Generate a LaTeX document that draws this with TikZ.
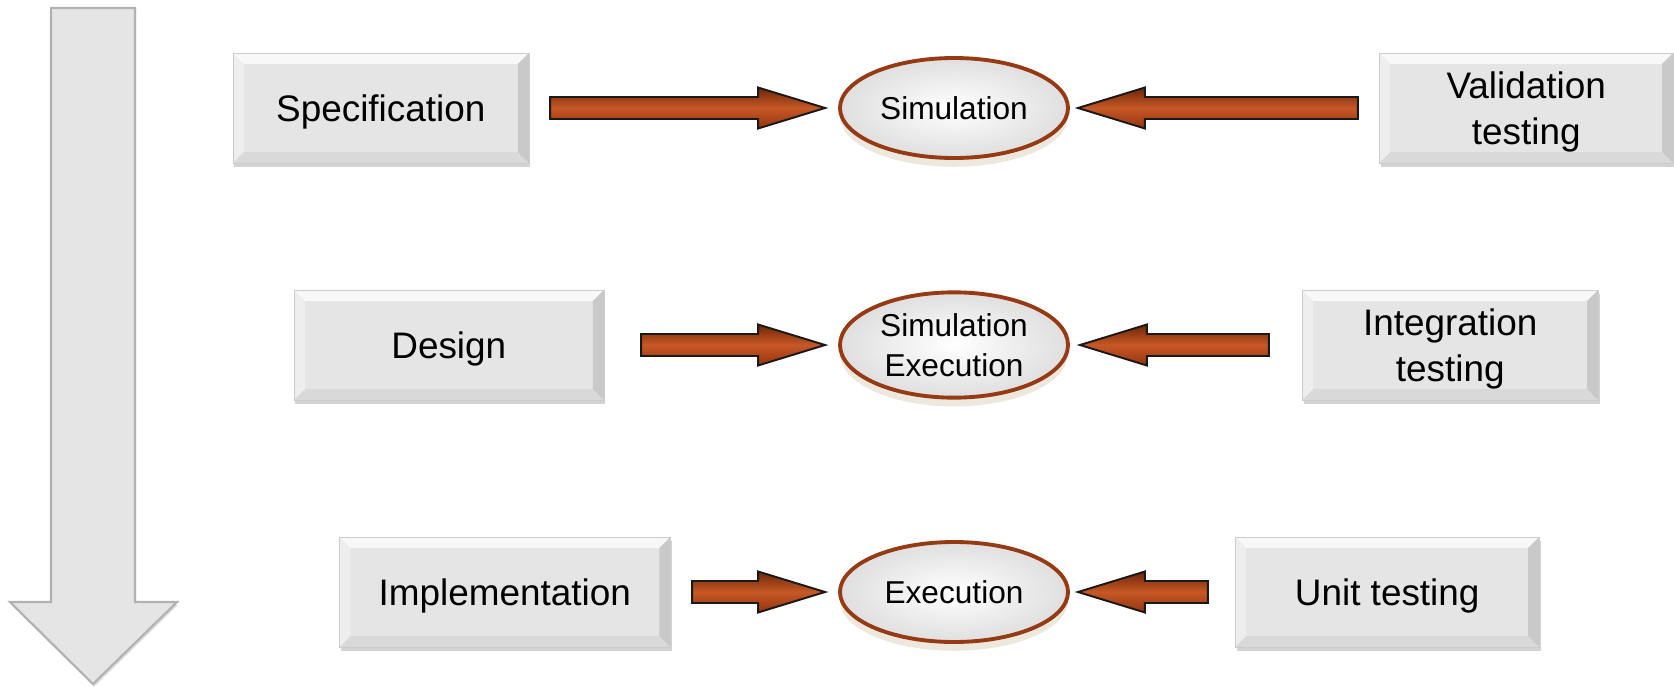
\documentclass[tikz,border=0pt]{standalone}
\usepackage{fontspec}
\setsansfont{Liberation Sans}
\usepackage{tikz}
\usetikzlibrary{positioning, calc, shadows, shapes.geometric}
\definecolor{box_gray}{RGB}{229,229,229}
\definecolor{bevel_dark}{RGB}{190,190,190}
\definecolor{rust_dark}{RGB}{110,38,8}
\definecolor{rust}{RGB}{198,88,38}
\definecolor{rust_mid}{RGB}{150,52,14}
\definecolor{ring_brown}{RGB}{150,58,20}
\definecolor{shadow_beige}{RGB}{236,232,222}

% bevelled edges of the gray boxes
\newcommand{\boxbevel}{%
  \fill[white, opacity=0.75] (path picture bounding box.north west) -- (path picture bounding box.north east)
    -- ([shift={(-0.22,-0.22)}]path picture bounding box.north east) -- ([shift={(0.22,-0.22)}]path picture bounding box.north west) -- cycle;
  \fill[bevel_dark, opacity=0.7] (path picture bounding box.north east) -- (path picture bounding box.south east)
    -- ([shift={(-0.22,0.22)}]path picture bounding box.south east) -- ([shift={(-0.22,-0.22)}]path picture bounding box.north east) -- cycle;
  \fill[bevel_dark, opacity=0.3] (path picture bounding box.south west) -- (path picture bounding box.south east)
    -- ([shift={(-0.22,0.22)}]path picture bounding box.south east) -- ([shift={(0.22,0.22)}]path picture bounding box.south west) -- cycle;
  \fill[white, opacity=0.35] (path picture bounding box.north west) -- (path picture bounding box.south west)
    -- ([shift={(0.22,0.22)}]path picture bounding box.south west) -- ([shift={(0.22,-0.22)}]path picture bounding box.north west) -- cycle;
}

\tikzstyle{phase} = [rectangle, fill=box_gray, draw=gray!40, line width=0.3pt, minimum height=2.2cm,
                    text centered, align=center, text depth=0pt, font=\sffamily\fontsize{21}{26}\selectfont,
                    drop shadow={shadow xshift=0.8pt, shadow yshift=-2.5pt, opacity=0.35},
                    path picture={\boxbevel}]
\tikzstyle{activity} = [ellipse, minimum width=4.56cm, minimum height=2cm, inner color=white, outer color=gray!25,
                    draw=ring_brown, line width=2.2pt, align=center, font=\sffamily\fontsize{18}{22.5}\selectfont,
                    drop shadow={shadow xshift=0pt, shadow yshift=-5pt, fill=shadow_beige, opacity=1}]
\tikzstyle{fatarrow} = [draw=black!90, line width=1.1pt, line join=miter,
                    top color=rust_dark, bottom color=rust_mid, middle color=rust,
                    to path={($(\tikztostart)+(0,0.22)$) -- ($(\tikztotarget)!1.34cm!(\tikztostart)+(0,0.22)$)
                      -- ($(\tikztotarget)!1.34cm!(\tikztostart)+(0,0.41)$) -- (\tikztotarget)
                      -- ($(\tikztotarget)!1.34cm!(\tikztostart)+(0,-0.41)$) -- ($(\tikztotarget)!1.34cm!(\tikztostart)+(0,-0.22)$)
                      -- ($(\tikztostart)+(0,-0.22)$) -- cycle}]
\tikzstyle{bigarrow} = [fill=box_gray, draw=gray!60, line width=1.2pt, line join=miter,
                    drop shadow={shadow xshift=0.6pt, shadow yshift=-1.5pt, opacity=0.3}]

\begin{document}
\begin{tikzpicture}

    \useasboundingbox (0,0) rectangle (33.48,-13.74);

    % the downward flow on the left
    \path[bigarrow] (1.02,-0.16) -- (2.70,-0.16) -- (2.70,-12.04) -- (3.54,-12.04)
        -- (1.86,-13.68) -- (0.20,-12.04) -- (1.02,-12.04) -- cycle;

    \node[activity] (sim) at (19.08,-2.16) {Simulation};
    \node[activity] (simexec) at (19.08,-6.9) {Simulation\\Execution};
    \node[activity] (exec) at (19.08,-11.84) {Execution};

    \node[phase, minimum width=5.92cm] (spec) [left=6.18cm of sim] {Specification};
    \node[phase, minimum width=6.2cm] (design) [left=4.68cm of simexec] {Design};
    \node[phase, minimum width=6.62cm] (impl) [left=3.35cm of exec] {Implementation};

    \node[phase, minimum width=5.88cm] (valid) [right=6.18cm of sim] {Validation\\testing};
    \node[phase, minimum width=5.92cm] (integ) [right=4.64cm of simexec] {Integration\\testing};
    \node[phase, minimum width=6.08cm] (unit) [right=3.30cm of exec] {Unit testing};

    \draw[fatarrow] ([xshift=0.42cm]spec.east) to ([xshift=-0.26cm]sim.west);
    \draw[fatarrow] ([xshift=-0.42cm]valid.west) to ([xshift=0.16cm]sim.east);
    \draw[fatarrow] ([xshift=0.74cm]design.east) to ([xshift=-0.26cm]simexec.west);
    \draw[fatarrow] ([xshift=-0.66cm]integ.west) to ([xshift=0.2cm]simexec.east);
    \draw[fatarrow] ([xshift=0.43cm]impl.east) to ([xshift=-0.26cm]exec.west);
    \draw[fatarrow] ([xshift=-0.54cm]unit.west) to ([xshift=0.16cm]exec.east);

\end{tikzpicture}
\end{document}
